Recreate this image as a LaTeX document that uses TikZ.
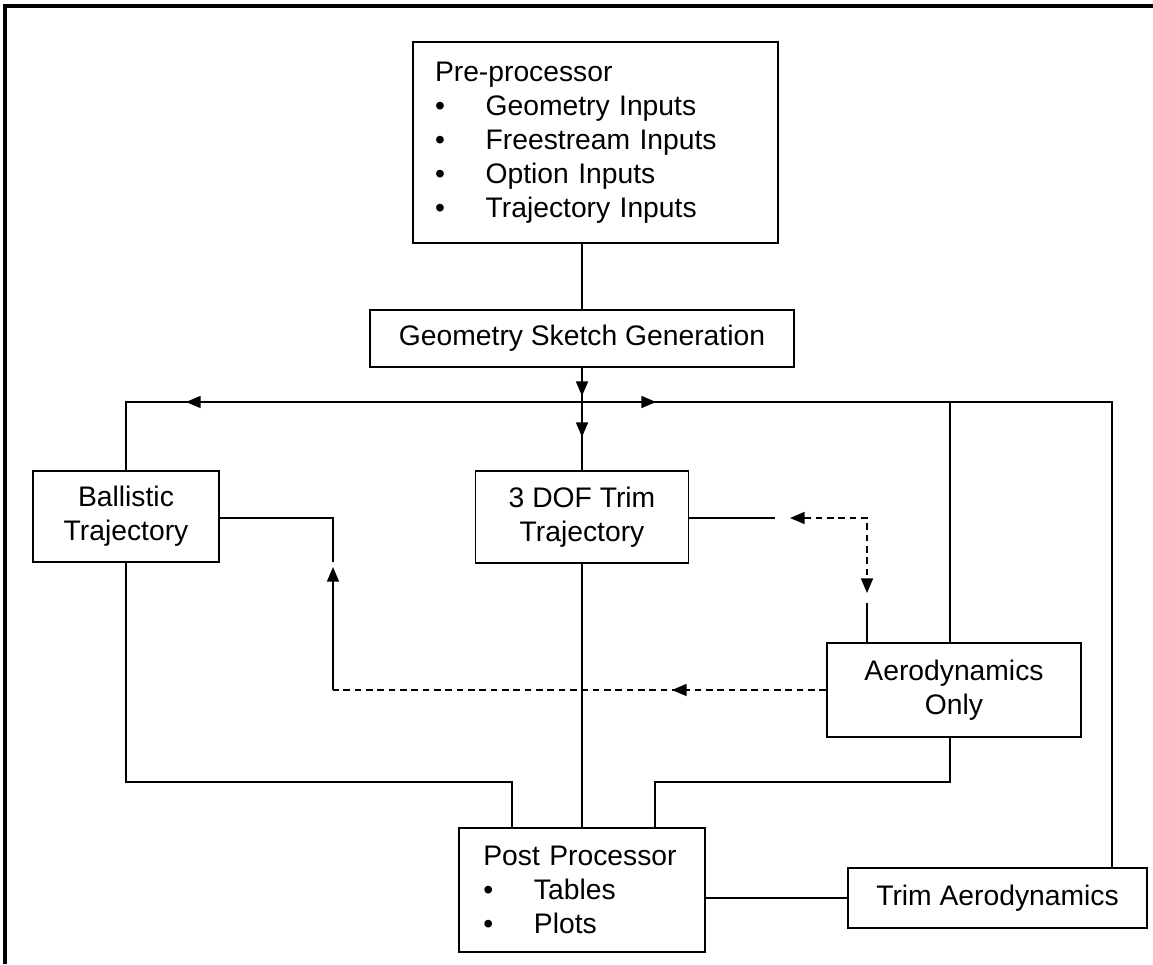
\documentclass[tikz,border=0pt]{standalone}
\usepackage{fontspec}
\setmainfont{Liberation Sans}
\usetikzlibrary{arrows.meta}
\newcommand\diafont{\fontsize{21.2pt}{25.5pt}\selectfont}
\newcommand\bul{\makebox[38pt][l]{\textbullet}}
\begin{document}
\begin{tikzpicture}[x=0.75pt,y=-0.75pt,
  box/.style={draw, line width=1.3pt, inner sep=0pt, align=center, font=\diafont},
  ln/.style={line width=1.3pt},
  arr/.style={ln,-{Triangle[length=11pt,width=9pt]}},
  darr/.style={ln,dash pattern=on 5pt off 3.5pt,{Triangle[length=11pt,width=9pt]}-{Triangle[length=11pt,width=9pt]}},
  dsh/.style={ln,dash pattern=on 5pt off 3.5pt},
  frame/.style={line width=2.4pt}]
\useasboundingbox (0,0) rectangle (1153,964);
\draw[frame] (5,964) -- (5,6) -- (1153,6);

\node[box, minimum height=150.75pt, text width=240.75pt, inner xsep=16.5pt, align=left] (pre) at (595.5,142.5)
  {Pre-processor\\ \bul Geometry Inputs\\ \bul Freestream Inputs\\ \bul Option Inputs\\ \bul Trajectory Inputs};
\node[box, minimum width=318pt, minimum height=42.75pt] (sketch) at (582,338.5) {Geometry Sketch Generation};
\node[box, minimum width=139.5pt, minimum height=68.25pt] (ball) at (126,516.5) {Ballistic\\Trajectory};
\node[box, minimum width=159.75pt, minimum height=69pt] (trim3) at (582,517) {3 DOF Trim\\Trajectory};
\node[box, minimum width=190.5pt, minimum height=70.5pt] (aero) at (954,690) {Aerodynamics\\Only};
\node[box, minimum height=93pt, text width=148pt, inner xsep=18pt, align=left] (post) at (582,890)
  {Post Processor\\ \bul Tables\\ \bul Plots};
\node[box, minimum width=224.25pt, minimum height=45pt] (trimaero) at (997.5,898) {Trim Aerodynamics};

% coordinates
\coordinate (hj) at (582,402);
\coordinate (hl) at (186,402);
\coordinate (hr) at (656,402);
\coordinate (rr) at (1112,402);
\coordinate (aj) at (950,402);
\coordinate (a1) at (582,396);
\coordinate (a2) at (582,437);
\coordinate (bc) at (333,518);
\coordinate (bend) at (333,562);
\coordinate (up) at (333,567);
\coordinate (dc) at (333,690);
\coordinate (dm) at (672,690);
\coordinate (tend) at (775,518);
\coordinate (dl) at (790,518);
\coordinate (dcor) at (867,518);
\coordinate (dd) at (867,593);
\coordinate (asu) at (867,603);
\coordinate (lb) at (512,782);
\coordinate (rb) at (655,782);

% top connections
\draw[ln] (sketch.north |- pre.south) -- (sketch.north);
\draw[ln] (sketch.south) -- (trim3.north);
\draw[arr] (sketch.south) -- (a1);
\draw[arr] (sketch.south) -- (a2);
\draw[ln] (ball.north) |- (rr) -- (rr |- trimaero.north);
\draw[arr] (hj) -- (hl);
\draw[arr] (hj) -- (hr);
\draw[ln] (aj) -- (aj |- aero.north);

% ballistic / aero dashed feedback
\draw[ln] (ball.east |- bc) -- (bc) -- (bend);
\draw[dsh] (aero.west) -- (dc);
\draw[dsh,-{Triangle[length=11pt,width=9pt]}] (aero.west) -- (dm);
\draw[arr] (dc) -- (up);

% 3 DOF to aero
\draw[ln] (trim3.east |- tend) -- (tend);
\draw[darr] (dl) -- (dcor) -- (dd);
\draw[ln] (dd |- aero.north) -- (asu);

% to post processor
\draw[ln] (ball.south) |- (lb) -- (lb |- post.north);
\draw[ln] (trim3.south) -- (post.north);
\draw[ln] (aj |- aero.south) |- (rb) -- (rb |- post.north);
\draw[ln] (post.east |- trimaero.west) -- (trimaero.west);
\end{tikzpicture}
\end{document}
